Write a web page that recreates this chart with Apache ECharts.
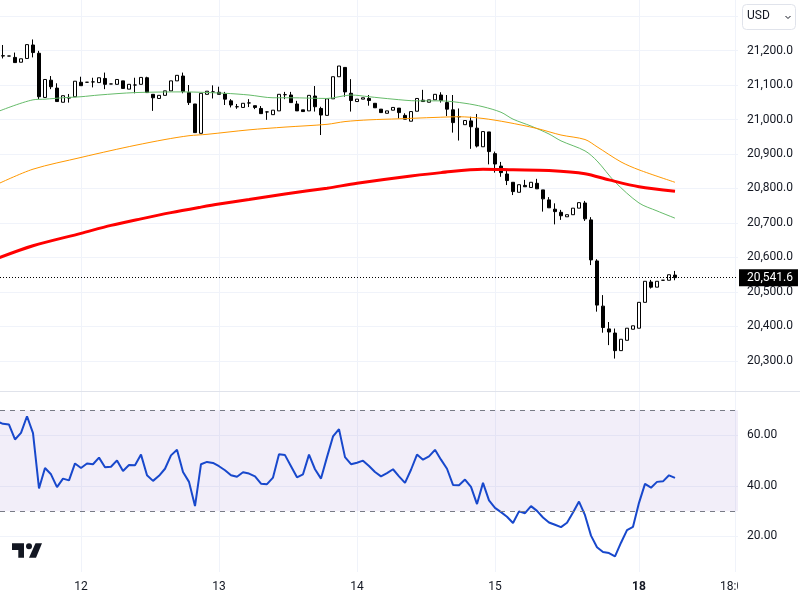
<!DOCTYPE html>
<html>
<head>
<meta charset="utf-8">
<title>USD</title>
<style>
  html, body { margin: 0; padding: 0; background: #fff; }
  #chart { width: 800px; height: 600px; }
</style>
<script src="https://cdn.jsdelivr.net/npm/echarts@6/dist/echarts.min.js"></script>
</head>
<body>
<div id="chart"></div>
<script>
// tick labels on the time axis and the bar they sit on
var timeTickIdx = [13, 36, 59, 82, 106, 122];
var timeTickNames = ['12', '13', '14', '15', '18', '18:00'];
var barSlots = 123;

var priceTicks = [20300, 20400, 20500, 20600, 20700, 20800, 20900, 21000, 21100, 21200, 21300];
var priceLabels = [20300, 20400, 20500, 20600, 20700, 20800, 20900, 21000, 21100, 21200];
var rsiTicks = [20, 40, 60];
var lastPrice = 20541.6;

// open, close, low, high
var candles = [
  [21184,21185,21177,21216],[21184,21184,21184,21184],[21180,21165,21165,21194],[21166,21176,21166,21176],
  [21177,21217,21177,21217],[21216,21194,21180,21232],[21192,21066,21059,21199],[21064,21116,21064,21116],
  [21114,21095,21088,21126],[21091,21052,21052,21105],[21050,21069,21050,21069],[21062,21064,21049,21074],
  [21066,21111,21066,21111],[21108,21098,21098,21124],[21108,21108,21108,21108],[21109,21109,21093,21121],
  [21107,21121,21107,21121],[21119,21102,21088,21136],[21103,21103,21103,21103],[21102,21116,21102,21116],
  [21112,21090,21090,21112],[21088,21102,21088,21102],[21100,21100,21076,21121],[21102,21122,21102,21122],
  [21121,21078,21078,21124],[21073,21063,21025,21073],[21061,21070,21061,21070],[21070,21083,21070,21083],
  [21083,21112,21083,21112],[21112,21128,21112,21128],[21126,21081,21076,21136],[21078,21049,21042,21100],
  [21045,20962,20962,21045],[20960,21076,20960,21076],[21073,21082,21073,21082],[21080,21080,21061,21099],
  [21079,21073,21073,21095],[21074,21059,21042,21080],[21054,21042,21035,21059],[21037,21037,21031,21045],
  [21035,21047,21035,21047],[21048,21048,21036,21059],[21040,21035,21030,21040],[21032,21017,21017,21039],
  [21022,21022,20999,21023],[21014,21027,21014,21027],[21025,21073,21025,21073],[21072,21072,21059,21080],
  [21071,21049,21049,21080],[21045,21025,21025,21054],[21028,21023,21023,21028],[21025,21070,21025,21070],
  [21068,21037,21023,21097],[21032,21013,20955,21037],[21012,21060,21012,21060],[21060,21124,21060,21124],
  [21124,21155,21124,21155],[21151,21080,21066,21151],[21076,21055,21023,21117],[21052,21059,21052,21059],
  [21059,21063,21059,21063],[21061,21055,21040,21071],[21047,21034,21034,21047],[21030,21020,21020,21030],
  [21018,21025,21018,21025],[21027,21035,21027,21035],[21033,21020,21003,21033],[21012,21001,21001,21018],
  [20995,21023,20995,21023],[21024,21061,21024,21061],[21056,21052,21052,21086],[21050,21057,21050,21057],
  [21057,21073,21057,21073],[21071,21055,21049,21079],[21049,21030,21010,21071],[21028,20991,20962,21071],
  [21008,21008,20939,21032],[20985,20997,20985,20997],[20996,20979,20915,21008],[20975,20923,20919,21016],
  [20921,20965,20921,20965],[20964,20907,20870,20964],[20901,20871,20846,20907],[20865,20846,20834,20877],
  [20842,20823,20810,20854],[20818,20791,20781,20818],[20789,20811,20789,20811],[20809,20805,20805,20825],
  [20803,20818,20803,20818],[20815,20799,20799,20828],[20796,20770,20733,20796],[20767,20744,20744,20775],
  [20740,20733,20696,20757],[20731,20721,20709,20738],[20718,20724,20718,20724],[20724,20743,20724,20743],
  [20743,20759,20743,20759],[20758,20712,20706,20764],[20709,20593,20578,20717],[20590,20462,20443,20595],
  [20459,20397,20382,20491],[20393,20384,20346,20413],[20381,20330,20307,20394],[20330,20363,20330,20363],
  [20360,20395,20360,20395],[20392,20402,20392,20402],[20395,20470,20395,20470],[20470,20531,20470,20531],
  [20529,20514,20510,20535],[20514,20531,20514,20531],[20534,20534,20534,20534],[20534,20550,20534,20550],
  [20549,20541.6,20534,20561]
];

// moving averages at the bars listed (-1 is the bar cut off at the left edge)
var fastIdx = [-1,5,7,10,13,16,22,30,37,41,45,48,54,58,61,65,69,73,77,80,83,85,88,91,93,97,99,102,106,109,112];
var fastAvg = [21022,21057,21059,21063,21066,21071,21078,21080,21076,21071,21063,21063,21061,21071,21066,21059,21054,21054,21047,21037,21021,21001,20981,20958,20938,20909,20880,20819,20758,20735,20714];

var midIdx = [-1,5,13,18,22,27,31,34,41,47,54,57,61,66,72,76,80,84,89,93,97,99,103,106,112];
var midAvg = [20812,20856,20890,20910,20925,20942,20953,20957,20970,20978,20986,20994,20999,21002,21006,21008,21003,20992,20974,20955,20942,20921,20877,20854,20818];

var slowIdx = [-1,5,13,18,23,28,33,36,41,47,54,59,68,73,80,85,91,97,101,106,112];
var slowAvg = [20597,20634,20670,20693,20712,20730,20746,20755,20768,20784,20801,20815,20836,20846,20856,20854,20852,20843,20825,20805,20792];

var rsi = [
  64.6,64.3,58.4,61,67.6,60.9,39,47.1,44.6,39.5,42.9,42.2,48.9,47.1,48.9,48.6,51.2,47.4,47.6,50.1,
  45.9,48.3,48.2,52.4,44.2,42,44,46.8,52.1,54.3,45.5,41.6,32,48.6,49.5,49.1,47.8,46.2,44.2,43.6,
  45.4,44.9,43.8,40.9,40.7,43.3,52.5,52.2,47.8,43.4,44.6,52.4,46.6,42.9,51.4,59.6,62.5,51.4,48.6,49.2,
  50,47.9,45.5,43.8,45.1,46.6,43.8,41.2,46.4,52.4,50.4,51.7,54.3,50.4,46.8,40.4,40.3,42.5,39.6,32.8,
  41.2,34.3,31.3,29.6,27.8,25.3,29.9,29.2,32,30.1,27.5,25.5,24.6,23.7,25.4,29.5,33.8,28.4,20.3,15.7,
  13.8,13.4,12.1,17.5,22.5,23.8,33.3,40.8,39.3,41.6,41.8,44.2,43.2
];
var rsiLead = 65.6;
var rsiBandTop = 70;
var rsiBandBottom = 30;

var categories = [];
for (var n = 0; n < barSlots; n++) {
  var at = timeTickIdx.indexOf(n);
  categories.push(at >= 0 ? timeTickNames[at] : String(n));
}

function isTimeTick(index) {
  return timeTickIdx.indexOf(index) >= 0;
}

function pairs(idx, vals) {
  return idx.map(function (x, k) { return [x, vals[k]]; });
}

var rsiPoints = [[-1, rsiLead]].concat(rsi.map(function (v, i) { return [i, v]; }));

var labelFont = 'Roboto, sans-serif';
var gridColor = '#f0f3fa';
var textColor = '#131722';

function avgLine(name, idx, vals, color, width) {
  return {
    name: name,
    type: 'line',
    xAxisIndex: 0,
    yAxisIndex: 0,
    data: pairs(idx, vals),
    showSymbol: false,
    smooth: 0.3,
    lineStyle: { color: color, width: width },
    z: 3
  };
}

var chart = echarts.init(document.getElementById('chart'));

chart.setOption({
  animation: false,
  backgroundColor: '#fff',
  grid: [
    { left: 0, width: 738, top: 0, height: 391 },
    { left: 0, width: 738, top: 392, height: 180 }
  ],
  xAxis: [
    {
      type: 'category',
      gridIndex: 0,
      data: categories,
      axisLine: { show: false },
      axisTick: { show: false },
      axisLabel: { show: false },
      splitLine: { show: true, alignWithLabel: true, interval: isTimeTick, lineStyle: { color: gridColor } }
    },
    {
      type: 'category',
      gridIndex: 1,
      data: categories,
      axisLine: { show: false },
      axisTick: { show: false },
      axisLabel: {
        interval: isTimeTick,
        margin: 9,
        fontFamily: labelFont,
        fontSize: 12,
        color: textColor,
        formatter: function (value) {
          return value === '18' ? '{b|18}' : value;
        },
        rich: { b: { fontFamily: labelFont, fontSize: 12, fontWeight: 'bold', color: textColor } }
      },
      splitLine: { show: true, alignWithLabel: true, interval: isTimeTick, lineStyle: { color: gridColor } }
    }
  ],
  yAxis: [
    {
      type: 'value',
      gridIndex: 0,
      position: 'right',
      min: 20213,
      max: 21346.4,
      axisLine: { show: false },
      axisTick: { show: false, customValues: priceTicks },
      axisLabel: {
        customValues: priceLabels,
        margin: 9,
        fontFamily: labelFont,
        fontSize: 12,
        color: textColor,
        formatter: function (v) {
          return v.toLocaleString('en-US', { minimumFractionDigits: 1 });
        }
      },
      splitLine: { lineStyle: { color: gridColor } }
    },
    {
      type: 'value',
      gridIndex: 1,
      position: 'right',
      min: 5.9,
      max: 77.2,
      axisLine: { show: false },
      axisTick: { show: false, customValues: rsiTicks },
      axisLabel: {
        customValues: rsiTicks,
        margin: 9,
        padding: [2, 0, 0, 0],
        fontFamily: labelFont,
        fontSize: 12,
        color: textColor,
        formatter: function (v) { return v.toFixed(2); }
      },
      splitLine: { lineStyle: { color: gridColor } }
    }
  ],
  series: [
    {
      type: 'candlestick',
      xAxisIndex: 0,
      yAxisIndex: 0,
      data: candles,
      barWidth: 4,
      itemStyle: {
        color: '#ffffff',
        color0: '#000000',
        borderColor: '#000000',
        borderColor0: '#000000',
        borderWidth: 1
      },
      markLine: {
        silent: true,
        symbol: 'none',
        animation: false,
        lineStyle: { color: '#000000', type: [1, 2], width: 1 },
        label: {
          position: 'end',
          distance: 1,
          formatter: lastPrice.toLocaleString('en-US'),
          color: '#ffffff',
          backgroundColor: '#000000',
          fontFamily: labelFont,
          fontSize: 12,
          padding: [1, 5, 1, 8],
          lineHeight: 15
        },
        data: [{ yAxis: lastPrice }]
      },
      z: 2
    },
    avgLine('MA fast', fastIdx, fastAvg, '#66bb6a', 1),
    avgLine('MA mid', midIdx, midAvg, '#ff9800', 1),
    avgLine('MA slow', slowIdx, slowAvg, '#ff0000', 3),
    {
      name: 'RSI',
      type: 'line',
      xAxisIndex: 1,
      yAxisIndex: 1,
      data: rsiPoints,
      showSymbol: false,
      lineStyle: { color: '#1848cc', width: 2 },
      markArea: {
        silent: true,
        animation: false,
        itemStyle: { color: 'rgba(126,87,194,0.1)' },
        data: [[{ yAxis: rsiBandTop }, { yAxis: rsiBandBottom }]]
      },
      markLine: {
        silent: true,
        symbol: 'none',
        animation: false,
        label: { show: false },
        lineStyle: { color: '#787b86', type: [5, 5], width: 1 },
        data: [{ yAxis: rsiBandTop }, { yAxis: rsiBandBottom }]
      }
    }
  ],
  graphic: [
    // pane separator
    { type: 'line', z: 50, shape: { x1: 0, y1: 391.5, x2: 800, y2: 391.5 }, style: { stroke: '#e0e3eb', lineWidth: 1 } },
    // clips the last time label at the price scale
    { type: 'rect', z: 60, shape: { x: 738, y: 574, width: 62, height: 26 }, style: { fill: '#fff' } },
    // currency button
    { type: 'rect', z: 70, shape: { x: 742.5, y: 4.5, width: 53, height: 25, r: 4 }, style: { fill: '#fff', stroke: '#e0e3eb', lineWidth: 1 } },
    { type: 'text', z: 71, x: 747, y: 10, style: { text: 'USD', fill: textColor, font: '12px Roboto, sans-serif' } },
    { type: 'polyline', z: 71, shape: { points: [[785.5, 16], [788, 18.5], [790.5, 16]] }, style: { stroke: textColor, lineWidth: 1, fill: null } },
    // logo
    { type: 'polygon', z: 70, shape: { points: [[12, 543.3], [24, 543.3], [24, 557.7], [18.3, 557.7], [18.3, 550], [12, 550]] }, style: { fill: textColor } },
    { type: 'circle', z: 70, shape: { cx: 29, cy: 546.2, r: 3 }, style: { fill: textColor } },
    { type: 'polygon', z: 70, shape: { points: [[35.5, 543.3], [42, 543.3], [36, 557.7], [29, 557.7]] }, style: { fill: textColor } }
  ]
});
</script>
</body>
</html>
